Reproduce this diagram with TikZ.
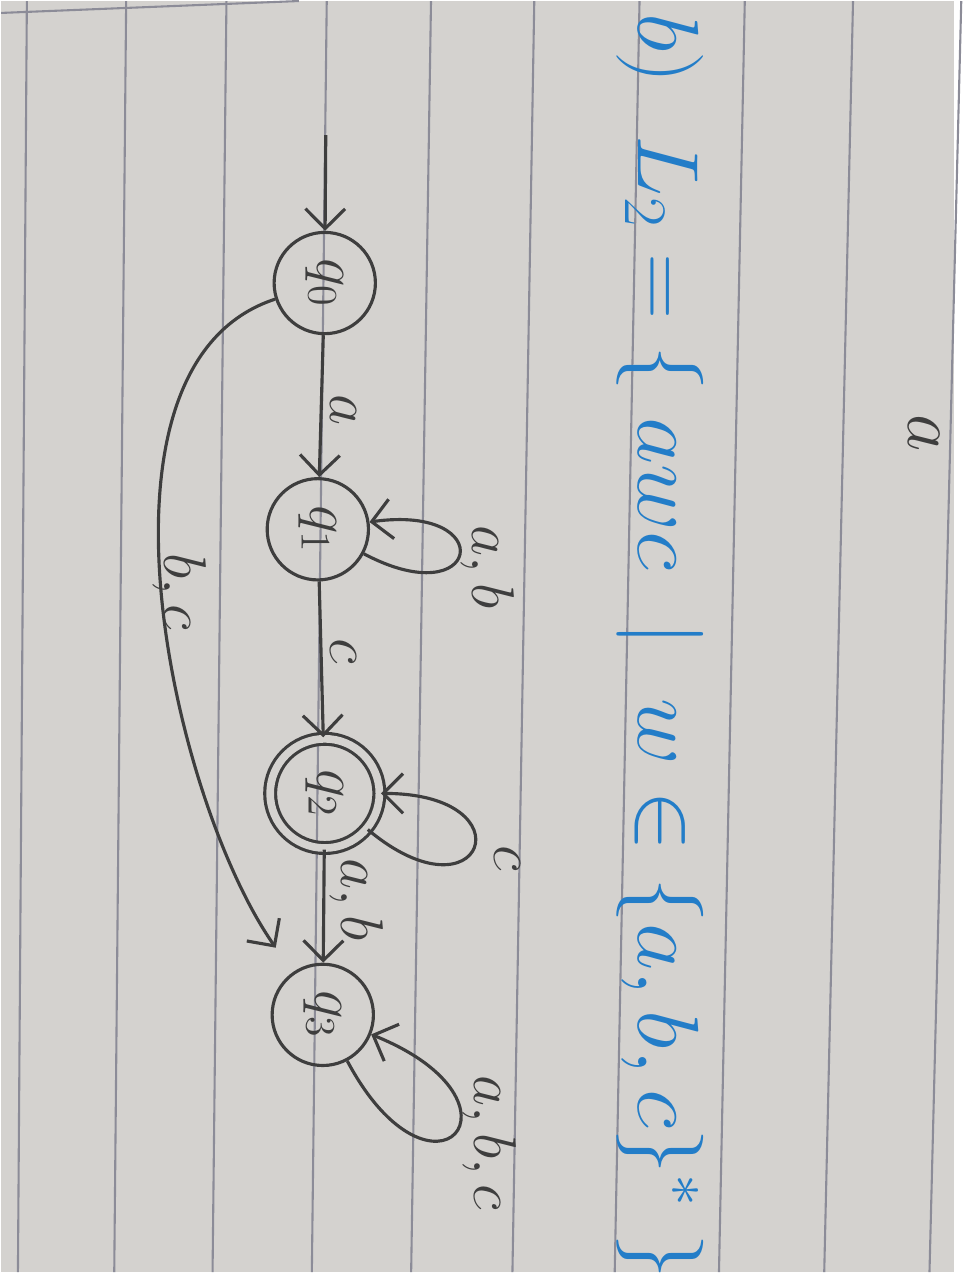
\documentclass[tikz,border=0pt]{standalone}
\usetikzlibrary{arrows.meta}
\definecolor{paper}{RGB}{212,210,207}
\definecolor{ruling}{RGB}{140,140,152}
\definecolor{pencil}{RGB}{62,62,62}
\definecolor{ink}{RGB}{35,125,200}
\begin{document}
\begin{tikzpicture}[
  qstate/.style={circle, draw=pencil, text=pencil, line width=0.9pt, minimum size=1.02cm, inner sep=0pt, font=\fontsize{18}{20}\selectfont},
  qaccept/.style={qstate, minimum size=1.1cm, double=paper, double distance=2.2pt},
  lbl/.style={text=pencil, inner sep=0pt, font=\fontsize{16}{18}\selectfont},
  trans/.style={draw=pencil, line width=0.9pt, -{Straight Barb[length=2mm,width=4mm]}},
  ruled/.style={ruling, line width=0.6pt}
]
% paper and its rulings
\fill[paper] (0,0) rectangle (9.6,12.8);
\foreach \t/\b in {0.26/0.17, 1.26/1.14, 2.27/2.13, 3.28/3.13, 4.33/4.13, 5.37/5.15, 6.43/6.18, 7.49/7.23, 8.58/8.29, 9.67/9.35}
  \draw[ruled] (\t,12.8) -- (\b,0);
\draw[ruled] (0,12.68) -- (3,12.8);

% the sheet is turned: everything below reads from top to bottom
\begin{scope}[shift={(0,12.8)}, rotate=-90, transform shape]
\node[text=ink, anchor=base west, inner sep=0pt, xscale=1.06, font=\fontsize{26}{28}\selectfont] (title) at (0.12,6.42)
  {$b)\;\; L_2 = \{\; awc \;\mid\; w \in \{a,b,c\}^* \;\}$};
\node[lbl, font=\fontsize{20}{22}\selectfont] (stray) at (4.35,9.3) {$a$};

\node[qstate] (q0) at (2.84,3.26) {$q_0$};
\node[qstate] (q1) at (5.32,3.19) {$q_1$};
\node[qaccept] (q2) at (7.98,3.26) {$q_2$};
\node[qstate] (q3) at (10.21,3.24) {$q_3$};
\coordinate (start) at (1.35,3.27);

\draw[trans] (start) -- (q0);
\draw[trans] (q0) -- (q1);
\draw[trans] (q1) -- (q2);
\draw[trans] (q2) -- (q3);
\draw[trans, shorten >=0.3cm] (q0) to[out=-72, in=-145, looseness=0.8] (q3);
\draw[trans] (q1) to[out=62, in=98, looseness=10.5] (q1);
\draw[trans] (q2) to[out=50, in=90, looseness=10] (q2);
\draw[trans] (q3) to[out=28, in=68, looseness=13] (q3);

\node[lbl] (l01) at (4.12,3.45) {$a$};
\node[lbl] (l12) at (6.55,3.45) {$c$};
\node[lbl] (l23) at (9.05,3.58) {$a,b$};
\node[lbl] (l11) at (5.70,4.90) {$a,b$};
\node[lbl] (l22) at (8.63,5.10) {$c$};
\node[lbl] (l33) at (11.50,4.92) {$a,b,c$};
\node[lbl] (l03) at (5.95,1.80) {$b,c$};
\end{scope}
\end{tikzpicture}
\end{document}
